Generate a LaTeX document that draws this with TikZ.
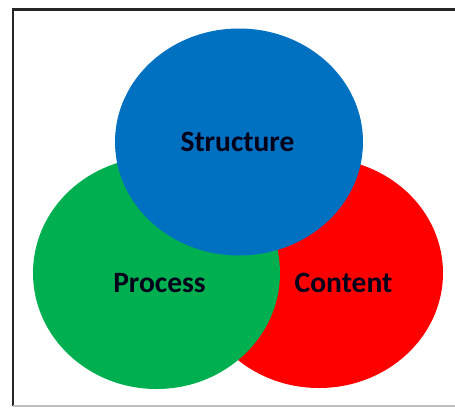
\documentclass[tikz,border=0pt]{standalone}
\usepackage{fontspec}
\setmainfont{Carlito}
\usetikzlibrary{shapes.geometric}
\definecolor{vblue}{HTML}{0070C0}
\definecolor{vgreen}{HTML}{00B050}
\definecolor{vred}{HTML}{FF0000}
\tikzset{
  blob/.style={ellipse, draw=none, inner sep=0pt},
  lbl/.style={font=\fontsize{29.5}{32}\selectfont\bfseries, text=black!90!blue, inner sep=0pt},
  frame/.style={line width=2.6pt, draw=black!85},
}
\begin{document}
\begin{tikzpicture}[x=1pt,y=-1pt]
\useasboundingbox (0,0) rectangle (455,408);
\fill[white] (0,0) rectangle (455,408);
% frame
\coordinate (tl) at (13,9.5);
\coordinate (tr) at (456,9.5);
\coordinate (bl) at (13,406);
\coordinate (br) at (456,406);
\draw[frame] (tr) -- (tl) -- (bl);
\draw[line width=2pt, draw=black!25] (bl) -- (br);
% circles
\node[blob, fill=vred, minimum width=248pt, minimum height=230pt] (content) at (319,273) {};
\node[blob, fill=vgreen, minimum width=247pt, minimum height=232pt] (process) at (156.5,273) {};
\node[blob, fill=vblue, minimum width=248pt, minimum height=227pt] (structure) at (239,142) {};
% labels
\node[lbl] (tstructure) at (237.5,142) {Structure};
\node[lbl] (tprocess) at (159.5,283) {Process};
\node[lbl] (tcontent) at (343.5,283) {Content};
\end{tikzpicture}
\end{document}
